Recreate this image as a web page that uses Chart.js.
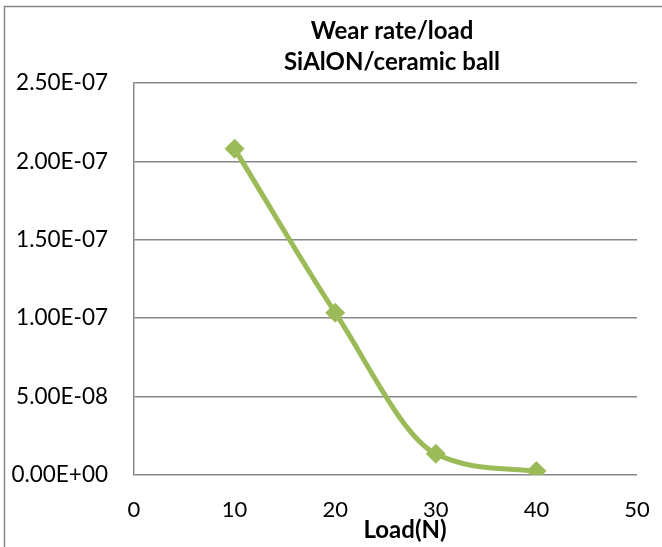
<!DOCTYPE html>
<html>
<head>
<meta charset="utf-8">
<script src="https://cdn.jsdelivr.net/npm/chart.js@4.4.1/dist/chart.umd.min.js"></script>
<style>
html,body{margin:0;padding:0;background:#fff;}
#wrap{width:662px;height:547px;position:relative;}
</style>
</head>
<body>
<div id="wrap"><canvas id="c" width="662" height="547"></canvas></div>
<script>
const titleLines = ["Wear rate/load", "SiAlON/ceramic ball"];
const xTitle = "Load(N)";
const loads = [10, 20, 30, 40];
const wearRates = [2.08e-7, 1.035e-7, 1.35e-8, 2.5e-9];
const xTicks = [0, 10, 20, 30, 40, 50];
const yTicks = [0, 5e-8, 1e-7, 1.5e-7, 2e-7, 2.5e-7];

const FONT = "Lato, 'Liberation Sans', sans-serif";
const GREEN = "#9BBB59";
const GRID = "#878787";

function fmtExp(v) {
  if (v === 0) return "0.00E+00";
  let e = Math.floor(Math.log10(Math.abs(v)) + 1e-9);
  let m = v / Math.pow(10, e);
  if (Math.abs(m) >= 9.995) { m /= 10; e += 1; }
  const sign = e < 0 ? "-" : "+";
  const ea = Math.abs(e);
  return m.toFixed(2) + "E" + sign + (ea < 10 ? "0" + ea : "" + ea);
}

const decor = {
  id: "decor",
  beforeDraw(chart) {
    const ctx = chart.ctx;
    ctx.save();
    ctx.strokeStyle = GRID;
    ctx.lineWidth = 1.5;
    ctx.beginPath();
    ctx.moveTo(4.5, 547);
    ctx.lineTo(4.5, 6.5);
    ctx.lineTo(662, 6.5);
    ctx.stroke();
    ctx.restore();
  },
  afterDraw(chart) {
    const ctx = chart.ctx;
    ctx.save();
    ctx.fillStyle = "#000";
    ctx.textAlign = "center";
    ctx.textBaseline = "middle";
    ctx.font = "bold 24px " + FONT;
    ctx.fillText(titleLines[0], 392, 31);
    ctx.fillText(titleLines[1], 392, 62);
    ctx.font = "bold 24px " + FONT;
    ctx.fillText(xTitle, 405, 530);
    ctx.restore();
  }
};

new Chart(document.getElementById("c"), {
  type: "scatter",
  data: {
    datasets: [{
      data: loads.map((x, i) => ({ x: x, y: wearRates[i] })),
      showLine: true,
      borderColor: GREEN,
      backgroundColor: GREEN,
      borderWidth: 5,
      cubicInterpolationMode: "monotone",
      pointStyle: "rectRot",
      pointRadius: 10,
      pointHoverRadius: 10,
      pointBorderWidth: 0
    }]
  },
  options: {
    responsive: false,
    animation: false,
    events: [],
    layout: { padding: { left: 0, right: 25, top: 83, bottom: 0 } },
    plugins: { legend: { display: false }, title: { display: false }, tooltip: { enabled: false } },
    scales: {
      x: {
        type: "linear",
        min: 0, max: 50,
        afterBuildTicks: s => { s.ticks = xTicks.map(v => ({ value: v })); },
        afterFit: s => { s.height = 72; s.paddingRight = 0; s.paddingLeft = 0; },
        grid: { display: false, drawTicks: false },
        border: { display: false },
        ticks: { color: "#000", padding: 22, maxRotation: 0, font: { family: FONT, size: 22 } }
      },
      y: {
        type: "linear",
        min: 0, max: 2.5e-7,
        afterBuildTicks: s => { s.ticks = yTicks.map(v => ({ value: v })); },
        afterFit: s => { s.width = 134; },
        grid: { color: GRID, lineWidth: 1.5, drawTicks: false },
        border: { display: true, color: GRID, width: 1.5 },
        ticks: { color: "#000", padding: 26, font: { family: FONT, size: 22.5 }, callback: v => fmtExp(v) }
      }
    }
  },
  plugins: [decor]
});
</script>
</body>
</html>
